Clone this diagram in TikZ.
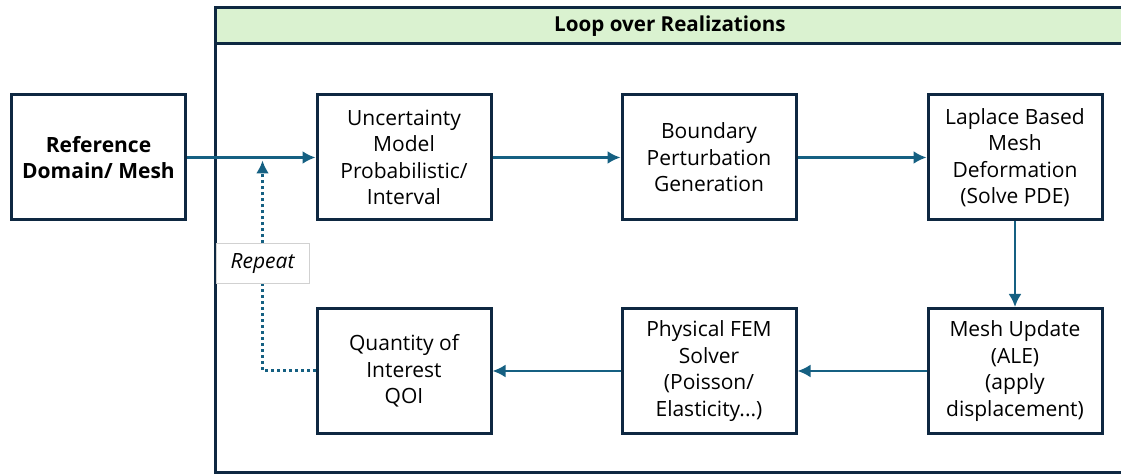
\documentclass[tikz,border=0pt]{standalone}
\usepackage{fontspec}
\setmainfont{Open Sans}
\usetikzlibrary{positioning}
\usetikzlibrary{arrows.meta,calc}
\definecolor{framenavy}{HTML}{0E2841}
\definecolor{arrowblue}{HTML}{156082}
\definecolor{headgreen}{HTML}{DAF2D0}
\tikzstyle{stepbox}=[rectangle,draw=framenavy,fill=white,line width=1.5pt,minimum width=87pt,minimum height=62.5pt,inner sep=2pt,align=center,font=\fontsize{10.5}{13.25}\selectfont]
\tikzstyle{tagbox}=[rectangle,draw=black!18,fill=white,line width=0.5pt,minimum width=46.5pt,minimum height=20pt,inner sep=1pt,font=\fontsize{10.5}{13.25}\selectfont\itshape]
\tikzstyle{edge} = [draw,line width=1.2pt,arrowblue,-{Latex[length=6.5pt,width=6.5pt]}]
\tikzstyle{repeatedge} = [draw,line width=1.5pt,arrowblue,dash pattern=on 1.5pt off 1.5pt]

\begin{document}
\begin{tikzpicture}[x=0.5pt,y=-0.5pt]
  \useasboundingbox (0,0) rectangle (1121,475);
  \clip (0,0) rectangle (1121,475);

  % loop frame with its header band
  \draw[framenavy,line width=1.5pt] (215,8) rectangle (1135,473);
  \draw[framenavy,fill=headgreen,line width=1.5pt] (215,8) rectangle (1135,44);
  \node[font=\fontsize{10.3}{13}\selectfont\bfseries] (head) at (670,26) {Loop over Realizations};

  \node[stepbox,font=\fontsize{10.5}{13.25}\selectfont\bfseries] (ref) at (98.5,157.5) {Reference\\Domain/ Mesh};

  \foreach \pos/\name/\label in {{(404,157.5)/unc/{Uncertainty\\Model\\Probabilistic/\\Interval}},
                                 {(709,157.5)/bnd/{Boundary\\Perturbation\\Generation}},
                                 {(1015,157.5)/lap/{Laplace Based\\Mesh\\Deformation\\(Solve PDE)}},
                                 {(1015,371)/upd/{Mesh Update\\(ALE)\\(apply\\displacement)}},
                                 {(709,371)/fem/{Physical FEM\\Solver\\(Poisson/\\Elasticity...)}},
                                 {(404,371)/qoi/{Quantity of\\Interest\\QOI}}}
        \node[stepbox] (\name) at \pos {\label};

  % Connect the steps
  \foreach \source/ \dest in {ref/unc, unc/bnd, bnd/lap, lap/upd, upd/fem, fem/qoi}
          \path[edge] (\source) -- (\dest);

  % repeat loop back to the start
  \node[tagbox] (rep) at (262.5,264) {Repeat};
  \coordinate (back) at ($(rep.north |- ref.east)+(0,3)$);
  \path[repeatedge] (qoi.west) -- (qoi.west -| rep.south) -- (rep.south);
  \path[repeatedge,-{Latex[length=6.5pt,width=6.5pt]}] (rep.north) -- (back);

\end{tikzpicture}
\end{document}
